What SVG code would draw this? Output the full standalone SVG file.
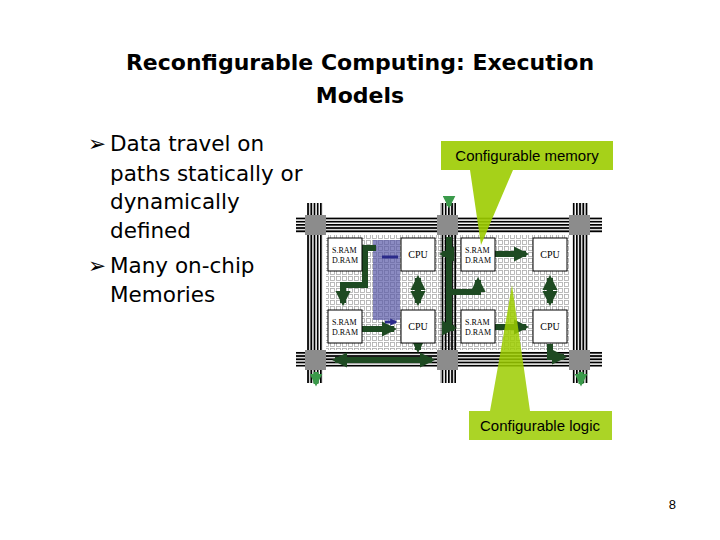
<svg xmlns="http://www.w3.org/2000/svg" width="720" height="540" viewBox="0 0 720 540">
<defs>
<style>
.t{font-family:"DejaVu Sans","Liberation Sans",sans-serif}
.c{font-family:"Liberation Sans",Arial,sans-serif}
.box{fill:#fff;stroke:#000;stroke-width:1}
.bl{font-family:"Liberation Serif",serif;font-size:8px}
.cp{font-family:"Liberation Serif",serif;font-size:10px}
.g{fill:#8c8c8c}
.ar{stroke:#1e4a22;stroke-width:6;fill:none}
.call{fill:#9ccc00}
</style>
<pattern id="grid" width="6" height="6" patternUnits="userSpaceOnUse">
<rect width="6" height="6" fill="#fff"/><rect x="0.5" y="0.5" width="4" height="4" fill="none" stroke="#aaa" stroke-width="0.8"/>
</pattern>
<pattern id="hb" width="4" height="3.2" patternUnits="userSpaceOnUse"><rect width="4" height="1.8" fill="#000"/></pattern>
<pattern id="vb" width="3.2" height="4" patternUnits="userSpaceOnUse"><rect width="1.8" height="4" fill="#000"/></pattern>
<marker id="ah" viewBox="0 0 10 10" refX="8" refY="5" markerWidth="2.6" markerHeight="2.6" orient="auto-start-reverse"><path d="M0,0L10,5L0,10z" fill="#1e4a22"/></marker>
<marker id="ahg" viewBox="0 0 10 10" refX="8" refY="5" markerWidth="2.6" markerHeight="2.6" orient="auto-start-reverse"><path d="M0,0L10,5L0,10z" fill="#3a9a4a"/></marker>
<marker id="ahb" viewBox="0 0 10 10" refX="8" refY="5" markerWidth="2.4" markerHeight="2.4" orient="auto-start-reverse"><path d="M0,0L10,5L0,10z" fill="#2a2a8a"/></marker>
</defs>
<rect width="720" height="540" fill="#fff"/>
<text class="t" x="360" y="70" font-size="22" font-weight="bold" text-anchor="middle">Reconfigurable Computing: Execution</text>
<text class="t" x="360" y="103" font-size="22" font-weight="bold" text-anchor="middle">Models</text>
<g id="bullets" class="t" font-size="21.5">
<text x="88" y="151">➢</text><text x="110" y="151">Data travel on</text>
<text x="110" y="181">paths statically or</text>
<text x="110" y="209">dynamically</text>
<text x="110" y="238">defined</text>
<text x="88" y="273">➢</text><text x="110" y="273">Many on-chip</text>
<text x="110" y="302">Memories</text>
</g>
<g id="chip">
<rect x="326" y="235" width="243" height="115" fill="url(#grid)"/>
<rect x="373" y="240" width="27" height="80" fill="#5a5aa8" opacity="0.7"/>
<rect x="296" y="217" width="306" height="16" fill="url(#hb)"/>
<rect x="296" y="351" width="306" height="16" fill="url(#hb)"/>
<rect x="307" y="203" width="16" height="180" fill="url(#vb)"/>
<rect x="440" y="203" width="16" height="180" fill="url(#vb)"/>
<rect x="572" y="203" width="16" height="180" fill="url(#vb)"/>
<rect class="g" x="305" y="215" width="21" height="20"/>
<rect class="g" x="437" y="215" width="21" height="20"/>
<rect class="g" x="569" y="215" width="21" height="20"/>
<rect class="g" x="305" y="350" width="21" height="20"/>
<rect class="g" x="437" y="350" width="21" height="20"/>
<rect class="g" x="569" y="350" width="21" height="20"/>
</g>
<g id="connectors">
<path class="ar" d="M376,248H365V285H343V303" marker-end="url(#ah)"/>
<path class="ar" d="M362,329H394" marker-end="url(#ah)"/>
<path class="ar" d="M418,278V303" marker-start="url(#ah)" marker-end="url(#ah)"/>
<path class="ar" d="M449,237V254H442" marker-end="url(#ah)"/>
<path class="ar" d="M449,254V328H454" marker-end="url(#ah)"/>
<path class="ar" d="M449,292H478V280" marker-end="url(#ah)"/>
<path class="ar" d="M495,254H526" marker-end="url(#ah)"/>
<path class="ar" d="M495,327H526" marker-end="url(#ah)"/>
<path class="ar" d="M550,278V303" marker-start="url(#ah)" marker-end="url(#ah)"/>
<path class="ar" d="M418,344V350" marker-end="url(#ah)"/>
<path class="ar" d="M335,360H432" marker-start="url(#ah)" marker-end="url(#ah)"/>
<path class="ar" d="M550,344V357H564" marker-end="url(#ah)"/>
<path stroke="#2a2a8a" stroke-width="3" fill="none" d="M398,257H382M385,322H396" marker-end="url(#ahb)"/>
<path stroke="#3a9a4a" stroke-width="5" fill="none" d="M449,197V206" marker-end="url(#ahg)"/>
<path stroke="#3a9a4a" stroke-width="5" fill="none" d="M316,372V384" marker-end="url(#ahg)"/>
<path stroke="#3a9a4a" stroke-width="5" fill="none" d="M581,372V384" marker-end="url(#ahg)"/>
</g>
<g id="n1"><rect class="box" x="328" y="238" width="34" height="33"/><text class="bl" x="332" y="253">S.RAM</text><text class="bl" x="332" y="263">D.RAM</text></g>
<g id="n2"><rect class="box" x="401" y="238" width="34" height="33"/><text class="cp" x="418" y="258" text-anchor="middle">CPU</text></g>
<g id="n3"><rect class="box" x="461" y="238" width="34" height="33"/><text class="bl" x="465" y="253">S.RAM</text><text class="bl" x="465" y="263">D.RAM</text></g>
<g id="n4"><rect class="box" x="533" y="238" width="34" height="33"/><text class="cp" x="550" y="258" text-anchor="middle">CPU</text></g>
<g id="n5"><rect class="box" x="328" y="310" width="34" height="33"/><text class="bl" x="332" y="325">S.RAM</text><text class="bl" x="332" y="335">D.RAM</text></g>
<g id="n6"><rect class="box" x="401" y="310" width="34" height="33"/><text class="cp" x="418" y="330" text-anchor="middle">CPU</text></g>
<g id="n7"><rect class="box" x="461" y="310" width="34" height="33"/><text class="bl" x="465" y="325">S.RAM</text><text class="bl" x="465" y="335">D.RAM</text></g>
<g id="n8"><rect class="box" x="533" y="310" width="34" height="33"/><text class="cp" x="550" y="330" text-anchor="middle">CPU</text></g>
<g id="callout-memory">
<path class="call" d="M441,141H613V170H513L481,245L470,170H441Z" opacity="0.9"/>
<text class="c" x="527" y="161" font-size="15" text-anchor="middle">Configurable memory</text>
</g>
<g id="callout-logic">
<path class="call" d="M500,355L512,285L530,411H612V440H469V411H490Z" opacity="0.85"/>
<text class="c" x="540" y="431" font-size="15" text-anchor="middle">Configurable logic</text>
</g>
<text class="c" x="676" y="509" font-size="13" text-anchor="end">8</text>
</svg>
